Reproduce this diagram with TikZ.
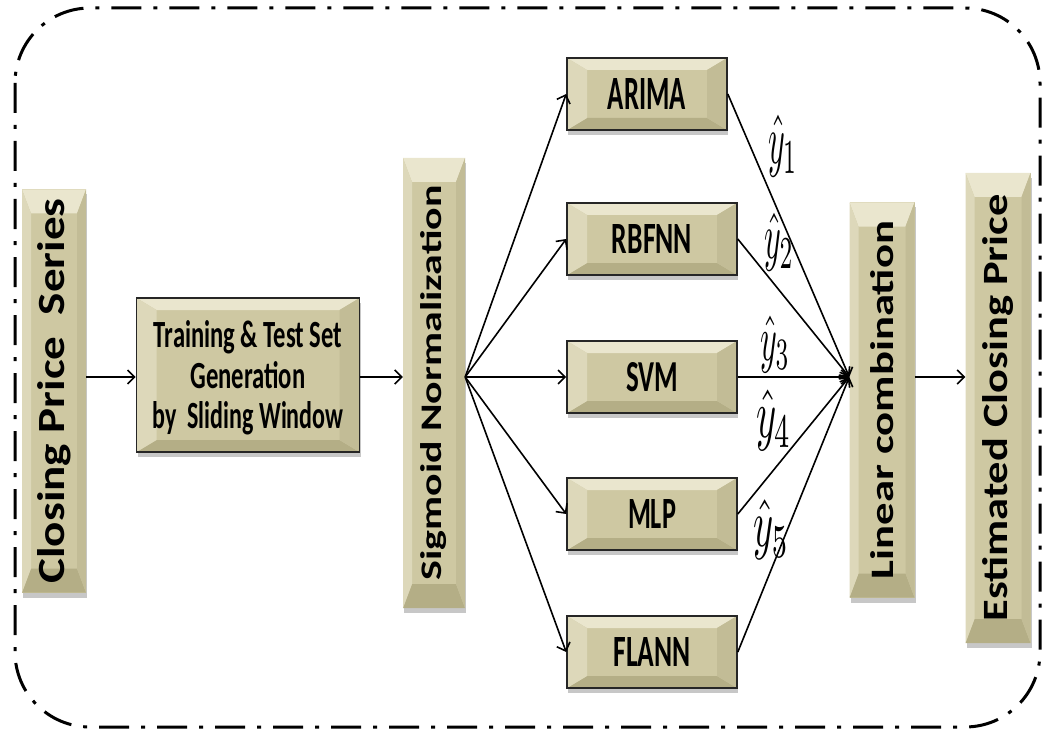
\documentclass[tikz,border=0pt]{standalone}
\usepackage{fontspec}
\setmainfont{Carlito}
\usepackage{amsmath}
\usepackage{graphicx}
\usetikzlibrary{arrows.meta, positioning, shadows, calc}
\definecolor{tanface}{RGB}{206,200,162}
\definecolor{tantop}{RGB}{234,230,206}
\definecolor{tanleft}{RGB}{221,216,186}
\definecolor{tanright}{RGB}{194,188,150}
\definecolor{tanbot}{RGB}{180,174,134}
\newcommand{\fitbox}[3]{\resizebox{#1}{#2}{\bfseries #3}}
\newcommand{\uptext}[3]{\rotatebox{90}{\fitbox{#1}{#2}{#3}}}
\newcommand{\lowline}[1]{\raisebox{-13pt}[0pt][0pt]{#1}}

\begin{document}
\begin{tikzpicture}[x=1pt, y=-1pt,
        bevel/.style 2 args={path picture={
            \coordinate (nw) at (path picture bounding box.north west);
            \coordinate (ne) at (path picture bounding box.north east);
            \coordinate (sw) at (path picture bounding box.south west);
            \coordinate (se) at (path picture bounding box.south east);
            \fill[tantop] (nw) -- (ne) -- ([shift={(-#1,-#2)}]ne) -- ([shift={(#1,-#2)}]nw) -- cycle;
            \fill[tanbot] (sw) -- (se) -- ([shift={(-#1,#2)}]se) -- ([shift={(#1,#2)}]sw) -- cycle;
            \fill[tanleft] (nw) -- ([shift={(#1,-#2)}]nw) -- ([shift={(#1,#2)}]sw) -- (sw) -- cycle;
            \fill[tanright] (ne) -- ([shift={(-#1,-#2)}]ne) -- ([shift={(-#1,#2)}]se) -- (se) -- cycle;
        }},
        boxshadow/.style={drop shadow={shadow xshift=1pt, shadow yshift=-5pt, fill=black, opacity=0.22}},
        model/.style={rectangle, draw=black!85, line width=1.6pt, fill=tanface, inner sep=0pt,
            minimum width=170pt, minimum height=72pt, bevel={20pt}{12pt}, boxshadow},
        column/.style={rectangle, fill=tanface, inner sep=0pt, bevel={9pt}{24pt}, boxshadow},
        arr/.style={line width=1.6pt, -{Straight Barb[length=7pt, width=14pt]}},
        frame/.style={line width=3pt, rounded corners=75pt, dash pattern=on 30pt off 12pt on 4pt off 12pt},
        yhat/.style={inner sep=0pt}
    ]
        \useasboundingbox (0,0) rectangle (1045,733);

        % outer dash-dot frame
        \draw[frame] (15,8) rectangle (1040,727);

        % vertical columns
        \node[column, minimum width=64pt, minimum height=403pt] (cps) at (54,391)
            {\uptext{385pt}{27pt}{Closing Price~~Series}};
        \node[column, minimum width=62pt, minimum height=450pt] (sig) at (434,383)
            {\uptext{395pt}{21pt}{Sigmoid Normalization}};
        \node[column, minimum width=65pt, minimum height=395pt] (lin) at (882,400)
            {\uptext{358pt}{23pt}{Linear combination}};
        \node[column, minimum width=65pt, minimum height=470pt] (est) at (998,408)
            {\uptext{427pt}{25pt}{Estimated Closing Price}};

        % window generation
        \node[model, minimum width=223pt, minimum height=154pt, align=center,
            font=\fontsize{10}{41}\selectfont] (train) at (248,375)
            {\lowline{\fitbox{188pt}{27pt}{Training \& Test Set}}\\
             \lowline{\fitbox{115pt}{27pt}{Generation}}\\
             \lowline{\fitbox{191pt}{27pt}{by~~Sliding Window}}};

        % individual forecasters
        \node[model, minimum width=160pt] (arima) at (647,94) {\fitbox{78pt}{31pt}{ARIMA}};
        \node[model] (rbfnn) at (652,239) {\fitbox{80pt}{29pt}{RBFNN}};
        \node[model] (svm) at (652,377) {\fitbox{52pt}{29pt}{SVM}};
        \node[model] (mlp) at (652,514) {\fitbox{48pt}{29pt}{MLP}};
        \node[model] (flann) at (652,652) {\fitbox{77pt}{29pt}{FLANN}};

        \coordinate (flow) at (0,377);

        \draw[arr] (cps.east |- flow) -- (train.west |- flow);
        \draw[arr] (train.east |- flow) -- (sig.west |- flow);
        \foreach \m in {arima, rbfnn, svm, mlp, flann} {
            \draw[arr] (sig.east |- flow) -- (\m.west);
            \draw[arr] (\m.east) -- (lin.west |- flow);
        }
        \draw[arr] (lin.east |- flow) -- (est.west |- flow);

        % forecast labels
        \node[yhat] (y1) at (783,146) {\resizebox*{30pt}{62pt}{$\hat{y}_1$}};
        \node[yhat] (y2) at (779,242) {\resizebox*{30pt}{58pt}{$\hat{y}_2$}};
        \node[yhat] (y3) at (775,344) {\resizebox*{30pt}{57pt}{$\hat{y}_3$}};
        \node[yhat] (y4) at (774,420) {\resizebox*{36pt}{61pt}{$\hat{y}_4$}};
        \node[yhat] (y5) at (771,530) {\resizebox*{36pt}{60pt}{$\hat{y}_5$}};
    \end{tikzpicture}
\end{document}
